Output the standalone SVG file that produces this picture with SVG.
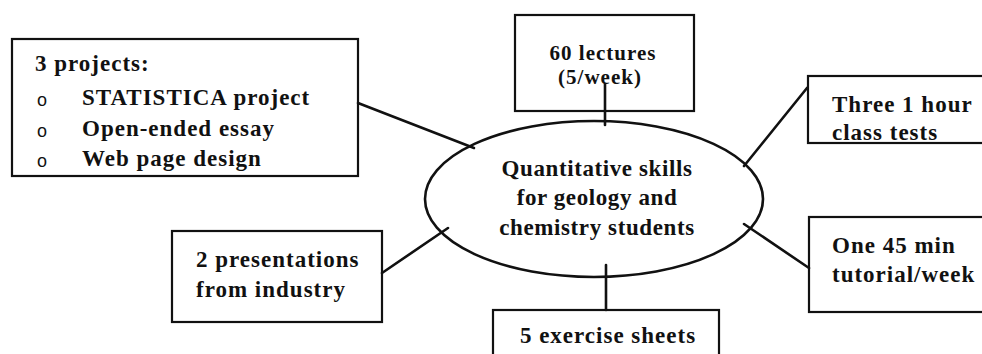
<svg xmlns="http://www.w3.org/2000/svg" width="982" height="354" viewBox="0 0 982 354">
<style>
  .box { fill: #fff; stroke: #111; stroke-width: 2.2; }
  .hub { fill: #fff; stroke: #111; stroke-width: 2.6; }
  .link { stroke: #111; stroke-width: 2.6; fill: none; stroke-linecap: round; }
  text { font-family: "Liberation Serif", "Times New Roman", serif; font-weight: bold; font-size: 23px; fill: #111; letter-spacing: 1px; }
  .mid { text-anchor: middle; }
  .hubtext { letter-spacing: 0.6px; }
  .small { font-size: 21px; }
  .bullet { font-family: "Liberation Sans", Arial, sans-serif; font-weight: normal; font-size: 18px; letter-spacing: 0; }
</style>
<rect width="982" height="354" fill="#fff"/>

<g id="n-projects">
  <rect class="box" x="12" y="39" width="346" height="137"/>
  <text x="35" y="71">3 projects:</text>
  <text class="bullet" x="37" y="106">o</text>
  <text x="82" y="105">STATISTICA project</text>
  <text class="bullet" x="37" y="137">o</text>
  <text x="82" y="136">Open-ended essay</text>
  <text class="bullet" x="37" y="167">o</text>
  <text x="82" y="166">Web page design</text>
</g>

<g id="n-lectures">
  <rect class="box" x="515" y="15" width="179" height="96"/>
  <text class="mid small" x="603" y="60">60 lectures</text>
  <text class="mid small" x="600" y="84">(5/week)</text>
</g>

<g id="n-tests">
  <rect class="box" x="808" y="76" width="190" height="67"/>
  <text x="832" y="112">Three 1 hour</text>
  <text x="832" y="140">class tests</text>
</g>

<g id="n-presentations">
  <rect class="box" x="172" y="231" width="210" height="91"/>
  <text x="196" y="267">2 presentations</text>
  <text x="196" y="297">from industry</text>
</g>

<g id="n-tutorial">
  <rect class="box" x="809" y="217" width="190" height="95"/>
  <text x="832" y="253">One 45 min</text>
  <text x="832" y="282">tutorial/week</text>
</g>

<g id="n-sheets">
  <rect class="box" x="493" y="310" width="226" height="60"/>
  <text class="mid" x="608" y="343">5 exercise sheets</text>
</g>

<g id="n-hub">
  <ellipse class="hub" cx="594" cy="199" rx="169" ry="78"/>
  <text class="mid hubtext" x="597" y="176">Quantitative skills</text>
  <text class="mid hubtext" x="597" y="205">for geology and</text>
  <text class="mid hubtext" x="597" y="235">chemistry students</text>
</g>

<g id="connectors">
  <line class="link" x1="358" y1="103" x2="474" y2="148"/>
  <line class="link" x1="605" y1="84" x2="605" y2="125"/>
  <line class="link" x1="807" y1="88" x2="744" y2="166"/>
  <line class="link" x1="382" y1="273" x2="448" y2="228"/>
  <line class="link" x1="744" y1="224" x2="809" y2="268"/>
  <line class="link" x1="606" y1="265" x2="606" y2="310"/>
</g>
</svg>
